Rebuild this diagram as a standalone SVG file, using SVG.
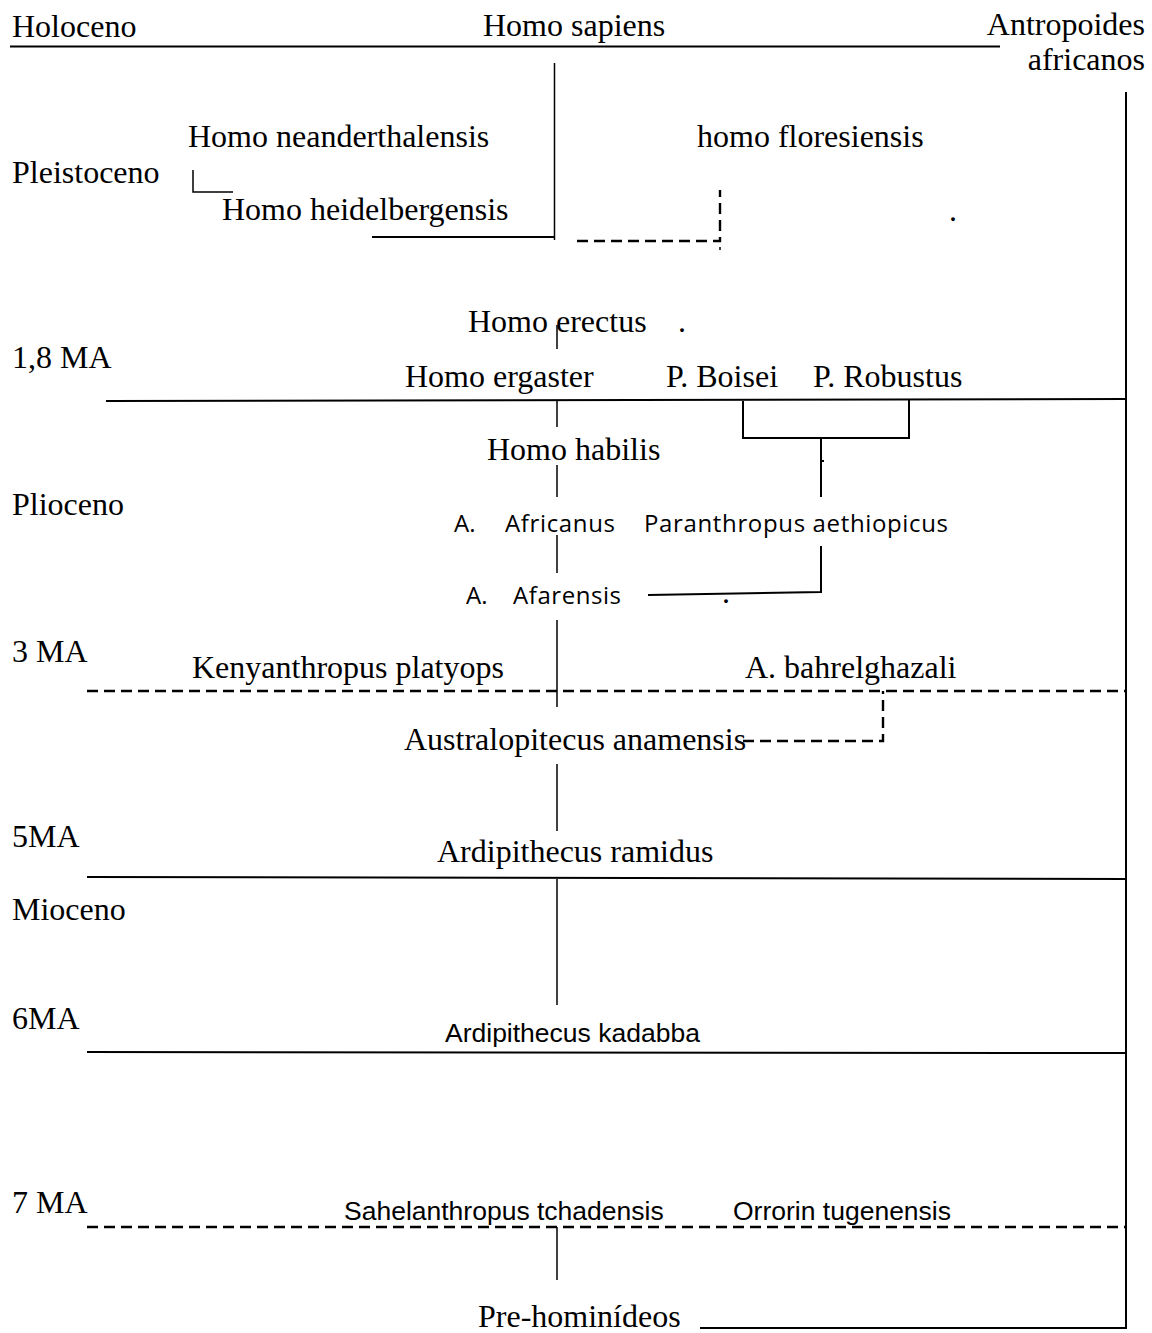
<svg xmlns="http://www.w3.org/2000/svg" width="1152" height="1333" viewBox="0 0 1152 1333">
<style>
.s{font-family:"Liberation Serif","Times New Roman",serif;font-size:32px;fill:#000}
.a{font-family:"Liberation Sans",Arial,sans-serif;font-size:26.5px;fill:#000}
.c{font-family:"Open Sans","Liberation Sans",sans-serif;font-size:24px;fill:#000}
.l{stroke:#000;stroke-width:2;fill:none}
.t{stroke:#000;stroke-width:1.5;fill:none}
.d{stroke:#000;stroke-width:2.4;fill:none;stroke-dasharray:11 6}
</style>
<rect width="1152" height="1333" fill="#fff"/>
<g id="periods">
<text class="s" x="12" y="37">Holoceno</text>
<text class="s" x="12" y="183">Pleistoceno</text>
<text class="s" x="12" y="368">1,8 MA</text>
<text class="s" x="12" y="515">Plioceno</text>
<text class="s" x="12" y="662">3 MA</text>
<text class="s" x="12" y="847">5MA</text>
<text class="s" x="12" y="920">Mioceno</text>
<text class="s" x="12" y="1029">6MA</text>
<text class="s" x="12" y="1213">7 MA</text>
</g>
<g id="connectors">
<path class="l" d="M10 46.5 H1000"/>
<path class="l" d="M1126 92 V1329"/>
<path class="t" d="M554.5 63 V240"/>
<path class="l" d="M372 237 H554"/>
<path class="t" d="M193 170 V192 H233"/>
<path class="d" d="M577 241 H720 V190"/>
<path class="t" d="M720 247 V250"/>
<path class="t" d="M557 325 V349"/>
<path class="l" d="M106 401 L1126 399"/>
<path class="t" d="M557 401 V427"/>
<path class="l" d="M743 401 V438 H909 V400"/>
<path class="l" d="M821 438 V497"/>
<path class="t" d="M557 465 V497"/>
<path class="t" d="M557 535 V573"/>
<path class="l" d="M648 595 L821 592 V546"/>
<path class="t" d="M557 620 V707"/>
<path class="d" d="M87 691 H1126"/>
<path class="d" d="M743 741 H883 V691"/>
<path class="t" d="M557 764 V831"/>
<path class="l" d="M87 877 L1126 879"/>
<path class="t" d="M557 879 V1005"/>
<path class="l" d="M87 1052 L1126 1053"/>
<path class="d" d="M87 1227 H1126"/>
<path class="t" d="M557 1227 V1280"/>
<path class="l" d="M700 1328 H1126"/>
</g>
<g id="n-sapiens"><text class="s" x="483" y="36">Homo sapiens</text></g>
<g id="n-antropoides"><text class="s" x="1145" y="35" text-anchor="end">Antropoides</text><text class="s" x="1145" y="70" text-anchor="end">africanos</text></g>
<g id="n-neanderthalensis"><text class="s" x="188" y="147">Homo neanderthalensis</text></g>
<g id="n-floresiensis"><text class="s" x="697" y="147">homo floresiensis</text></g>
<g id="n-heidelbergensis"><text class="s" x="222" y="220">Homo heidelbergensis</text></g>
<g id="dots">
<text class="s" x="949" y="221">.</text>
<text class="s" x="678" y="332">.</text>
<text class="s" x="722" y="603">.</text>
<rect x="822" y="460" width="2" height="2" fill="#000"/>
</g>
<g id="n-erectus"><text class="s" x="468" y="332">Homo erectus</text></g>
<g id="n-ergaster"><text class="s" x="405" y="387">Homo ergaster</text></g>
<g id="n-boisei"><text class="s" x="666" y="387">P. Boisei</text></g>
<g id="n-robustus"><text class="s" x="813" y="387">P. Robustus</text></g>
<g id="n-habilis"><text class="s" x="487" y="460">Homo habilis</text></g>
<g id="n-africanus"><text class="c" y="532"><tspan x="454">A.</tspan><tspan x="505" textLength="110" lengthAdjust="spacing">Africanus</tspan></text></g>
<g id="n-aethiopicus"><text class="c" x="644" y="532" textLength="304" lengthAdjust="spacing">Paranthropus aethiopicus</text></g>
<g id="n-afarensis"><text class="c" y="604"><tspan x="466">A.</tspan><tspan x="513" textLength="108" lengthAdjust="spacing">Afarensis</tspan></text></g>
<g id="n-kenyanthropus"><text class="s" x="192" y="678">Kenyanthropus platyops</text></g>
<g id="n-bahrelghazali"><text class="s" x="745" y="678">A. bahrelghazali</text></g>
<g id="n-anamensis"><text class="s" x="404" y="750">Australopitecus anamensis</text></g>
<g id="n-ramidus"><text class="s" x="437" y="862">Ardipithecus ramidus</text></g>
<g id="n-kadabba"><text class="a" x="445" y="1042">Ardipithecus kadabba</text></g>
<g id="n-sahelanthropus"><text class="a" x="344" y="1220">Sahelanthropus tchadensis</text></g>
<g id="n-orrorin"><text class="a" x="733" y="1220">Orrorin tugenensis</text></g>
<g id="n-prehominideos"><text class="s" x="478" y="1327">Pre-hominídeos</text></g>
</svg>
